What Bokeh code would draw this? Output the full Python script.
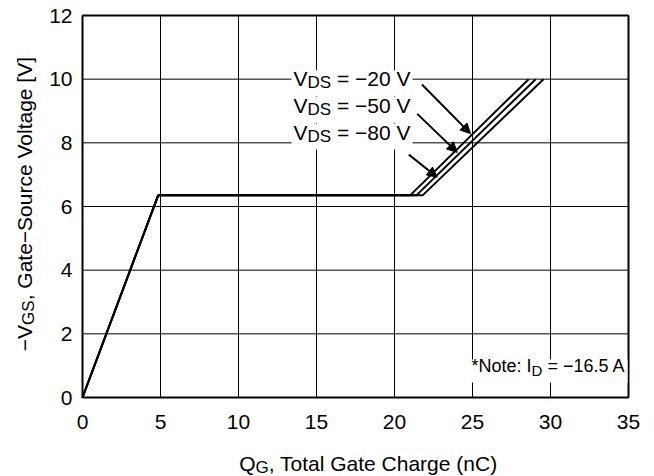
from bokeh.plotting import figure
from bokeh.models import (Label, Range1d, Arrow, NormalHead, ColumnDataSource,
                          LinearAxis, BoxAnnotation)
from bokeh.embed import file_html
from bokeh.resources import INLINE

# ---------------- data ----------------
X_TICKS = [0, 5, 10, 15, 20, 25, 30, 35]
Y_TICKS = [0, 2, 4, 6, 8, 10, 12]
VDS_NAMES = ["\u221220 V", "\u221250 V", "\u221280 V"]
Q_20 = [0.0, 4.85, 21.0, 28.6]
Q_50 = [0.0, 4.85, 21.4, 29.05]
Q_80 = [0.0, 4.85, 21.8, 29.55]
VGS = [0.0, 6.35, 6.35, 10.0]
ARROW_X0 = [21.76, 21.46, 20.92]
ARROW_Y0 = [9.83, 8.91, 7.63]
ARROW_X1 = [24.87, 24.02, 22.74]
ARROW_Y1 = [8.29, 7.70, 6.92]
NOTE_VALUE = "\u221216.5 A"

# ---------------- layout (pixel geometry of the data box) ----------------
W, H = 654, 476
BL, BR, BT, BB = 82, 628, 15, 397      # data box edges in canvas pixels
XMIN, XMAX, YMIN, YMAX = 0, 35, 0, 12
SX = (BR - BL) / (XMAX - XMIN)
SY = (BB - BT) / (YMAX - YMIN)
FONT = "Liberation Sans"
BASE_FIX = 8.5   # renderer draws text this much below the requested baseline

x_range = Range1d(XMIN - BL / SX, XMAX + (W - BR) / SX)
y_range = Range1d(YMIN - (H - BB) / SY, YMAX + BT / SY)

p = figure(width=W, height=H, output_backend="svg", toolbar_location=None,
           x_range=x_range, y_range=y_range,
           min_border_left=0, min_border_right=0, min_border_top=0,
           min_border_bottom=0)
p.background_fill_color = "white"
p.border_fill_color = "white"
p.outline_line_color = None
p.xgrid.visible = False
p.ygrid.visible = False

# grid lines inside the data box, at the tick positions
p.segment(x0=X_TICKS, y0=YMIN, x1=X_TICKS, y1=YMAX, line_color="black", line_width=1)
p.segment(x0=XMIN, y0=Y_TICKS, x1=XMAX, y1=Y_TICKS, line_color="black", line_width=1)

# axes placed on the data box
xa, ya = p.xaxis[0], p.yaxis[0]
xa.fixed_location = YMIN
ya.fixed_location = XMIN
xa.bounds = (XMIN, XMAX)
ya.bounds = (YMIN, YMAX)
xa.ticker = X_TICKS
ya.ticker = Y_TICKS
xa.major_label_standoff = 11
ya.major_label_standoff = 4
top_ax = LinearAxis(fixed_location=YMAX, bounds=(XMIN, XMAX), ticker=X_TICKS)
right_ax = LinearAxis(fixed_location=XMAX, bounds=(YMIN, YMAX), ticker=Y_TICKS)
p.add_layout(top_ax, "above")
p.add_layout(right_ax, "right")
for ax in (xa, ya, top_ax, right_ax):
    ax.axis_line_color = "black"
    ax.axis_line_width = 2
    ax.major_tick_line_color = None
    ax.minor_tick_line_color = None
    ax.major_label_text_font = FONT
    ax.major_label_text_font_size = "21px"
    ax.major_label_text_color = "black"
for ax in (top_ax, right_ax):
    ax.major_label_text_color = None

for q in (Q_20, Q_50, Q_80):
    p.line(q, VGS, line_color="black", line_width=2)

src = ColumnDataSource(dict(x0=ARROW_X0, y0=ARROW_Y0, x1=ARROW_X1, y1=ARROW_Y1))
p.add_layout(Arrow(end=NormalHead(size=10, fill_color="black", line_color="black"),
                   x_start="x0", y_start="y0", x_end="x1", y_end="y1",
                   line_width=2, line_color="black", source=src))

# ---------------- rich text helper ----------------
CW = {' ': 278, '*': 389, '(': 333, ')': 333, ',': 278, '.': 278, ':': 278,
      '=': 584, '\u2212': 584, '-': 333, '[': 278, ']': 278,
      'A': 667, 'C': 722, 'D': 722, 'G': 778, 'I': 278, 'N': 722, 'Q': 778,
      'S': 667, 'T': 611, 'V': 667, 'a': 556, 'c': 500, 'e': 556, 'g': 556,
      'h': 556, 'l': 222, 'n': 556, 'o': 556, 'r': 333, 't': 278, 'u': 556}


def tw(s, size):
    return sum(CW.get(c, 556) for c in s) * size / 1000.0


def px2data(px, py):
    return XMIN + (px - BL) / SX, YMIN + (BB - py) / SY


def rich(parts, x_px, y_px, angle=0.0, anchor="left", bg_pad=None):
    total = sum(tw(t, s) for t, s, _ in parts)
    off = {"left": 0, "center": -total / 2, "right": -total}[anchor]
    if bg_pad is not None and angle == 0:
        up, down_pad, side = bg_pad
        l, t = px2data(x_px + off - side, y_px - up)
        r, b = px2data(x_px + off + total + side, y_px + down_pad)
        p.add_layout(BoxAnnotation(left=l, right=r, top=t, bottom=b,
                                   fill_color="white", fill_alpha=1.0,
                                   line_color=None))
    pos = off
    for text, size, shift in parts:
        stripped = text.lstrip(" ")
        pos += tw(text[:len(text) - len(stripped)], size)
        down = shift - BASE_FIX
        if angle == 0:
            px, py = x_px + pos, y_px + down
        else:
            px, py = x_px + down, y_px - pos
        x, y = px2data(px, py)
        p.add_layout(Label(x=x, y=y, text=stripped, angle=angle, text_font=FONT,
                           text_font_size=f"{size}px", text_baseline="alphabetic",
                           text_align="left", text_color="black"))
        pos += tw(stripped, size)


# V_DS labels
for name, base in zip(VDS_NAMES, [86.7, 113.3, 140.0]):
    rich([("V", 21, 0), ("DS", 17, 4), (" = " + name, 21, 0)], 293, base,
         bg_pad=(17, 9, 2))

# note
rich([("*Note: I", 18, 0), ("D", 15, 4), (" = " + NOTE_VALUE, 18, 0)], 625, 374,
     anchor="right", bg_pad=(15, 8, 2))

# axis titles
rich([("Q", 21, 0), ("G", 17, 4), (", Total Gate Charge (nC)", 21, 0)], 369, 471,
     anchor="center")
rich([("\u2212V", 21, 0), ("GS", 17, 4), (", Gate\u2212Source Voltage [V]", 21, 0)],
     32, 203, angle=1.5707963267948966, anchor="center")

open("out.html", "w").write(file_html(p, INLINE))
